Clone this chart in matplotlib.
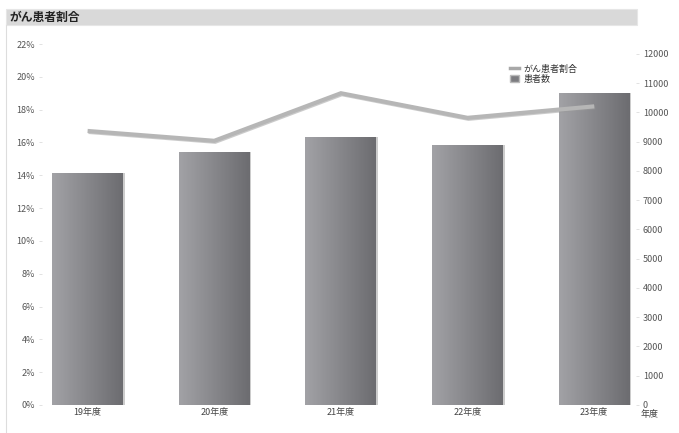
import numpy as np
import matplotlib
matplotlib.use('Agg')
import matplotlib.pyplot as plt
import matplotlib.patheffects as pe
from matplotlib.colors import LinearSegmentedColormap
from matplotlib.lines import Line2D
from matplotlib.patches import Patch, Rectangle

plt.rcParams['font.family'] = ['Noto Sans CJK JP', 'DejaVu Sans']

# Data
years = ['19年度', '20年度', '21年度', '22年度', '23年度']
patients = [7940, 8660, 9150, 8890, 10660]
cancer_ratio = [0.167, 0.161, 0.190, 0.175, 0.182]

title = 'がん患者割合'
legend_line = 'がん患者割合'
legend_bar = '患者数'
x_label = '年度'

pct_ticks = np.arange(0, 0.2201, 0.02)
count_ticks = np.arange(0, 12001, 1000)


def create_chart():
    fig = plt.figure(figsize=(6.79, 4.33), dpi=100)

    # Title band
    fig.add_artist(Rectangle((6 / 679, 1 - 25 / 433), 631 / 679, 16 / 433,
                             transform=fig.transFigure, facecolor='#d9d9d9',
                             edgecolor='#e6e6e6', lw=0.8))
    fig.text(9 / 679, 1 - 17 / 433, title, fontsize=8.5, fontweight='bold',
             va='center', ha='left', color='#222222')
    fig.add_artist(Line2D([6 / 679, 6 / 679], [0, 1 - 25 / 433],
                          transform=fig.transFigure, color='#dddddd', lw=0.8))

    ax = fig.add_axes([42 / 679, 1 - 405 / 433, 594 / 679, 361 / 433])
    ax2 = ax.twinx()

    x = np.arange(len(years))

    # Bars with horizontal gradient on the right axis
    cmap = LinearSegmentedColormap.from_list('barg', ['#a2a2a6', '#6c6c70'])
    grad = np.linspace(0, 1, 256).reshape(1, -1)
    bars = ax2.bar(x, patients, width=0.56, color='#808084', zorder=2)
    for b in bars:
        # soft shadow
        ax2.add_patch(Rectangle((b.get_x() + 0.012, 0), b.get_width(), b.get_height(),
                                facecolor='#cccccc', edgecolor='none', zorder=1))
        im = ax2.imshow(grad, cmap=cmap, aspect='auto', zorder=3,
                        extent=(b.get_x(), b.get_x() + b.get_width(), 0, b.get_height()))
        im.set_clip_path(b)

    ax2.set_xlim(-0.36, 4.33)
    ax2.set_ylim(0, 12340)
    ax2.set_yticks(count_ticks)
    ax2.set_yticklabels([str(int(v)) for v in count_ticks])

    # Ratio line on left axis, above the bars
    ax.set_zorder(ax2.get_zorder() + 1)
    ax.patch.set_visible(False)
    ax.plot(x, cancer_ratio, color='#b6b6b6', lw=3.0, solid_capstyle='butt',
            solid_joinstyle='miter',
            path_effects=[pe.SimpleLineShadow(offset=(0.7, -0.7), shadow_color='#999999', alpha=0.5),
                          pe.Normal()])
    ax.set_xlim(-0.36, 4.33)
    ax.set_ylim(0, 0.22)
    ax.set_yticks(pct_ticks)
    ax.set_yticklabels([f'{int(round(v * 100))}%' for v in pct_ticks])
    ax.set_xticks(x)
    ax.set_xticklabels(years)

    for a in (ax, ax2):
        for s in a.spines.values():
            s.set_visible(False)
        a.tick_params(axis='y', length=2, width=0.6, color='#dddddd',
                      labelsize=6.5, labelcolor='#555555', pad=3)
    ax.tick_params(axis='x', length=0, labelsize=6.5, labelcolor='#444444', pad=2)
    ax2.tick_params(axis='x', length=0, labelbottom=False)

    fig.text(650 / 679, 1 - 415 / 433, x_label, fontsize=6.5, color='#444444',
             ha='center', va='center')

    handles = [Line2D([0], [0], color='#a8a8a8', lw=2.5),
               Patch(facecolor='#7c7c80', edgecolor='#bbbbbb')]
    ax.legend(handles, [legend_line, legend_bar], loc='upper left',
              bbox_to_anchor=(0.78, 0.955), frameon=False, fontsize=6.5,
              handlelength=1.0, handleheight=0.9, handletextpad=0.5,
              labelspacing=0.1, borderpad=0, labelcolor='#333333')
    return fig


fig = create_chart()
fig.savefig('out.png', dpi=100, facecolor='white')
